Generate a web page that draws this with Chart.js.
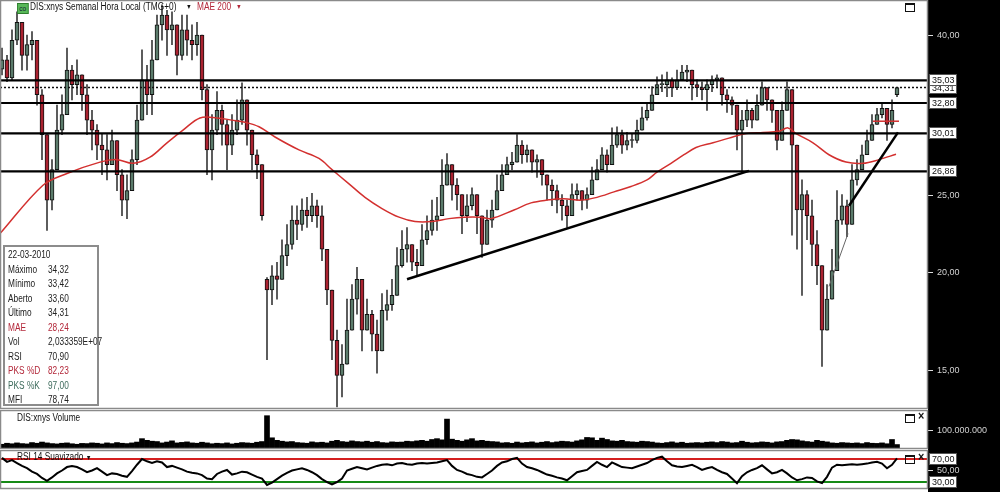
<!DOCTYPE html>
<html>
<head>
<meta charset="utf-8">
<script src="https://cdn.jsdelivr.net/npm/chart.js@4.4.1/dist/chart.umd.min.js"></script>
<style>
  body { margin: 0; width: 1000px; height: 492px; overflow: hidden; background: #fff;
         font-family: 'Liberation Sans', Arial, sans-serif; }
  .pane { position: absolute; left: 0; }
  .lbl { position: absolute; font-size: 10px; white-space: nowrap; color: #111; line-height: 12px;
         transform: scaleX(0.83); transform-origin: 0 0; }
  .sq { position: absolute; width: 8px; height: 6px; border: 1.5px solid #111; border-top-width: 2.5px; }
  #info { position: absolute; left: 3px; top: 245px; width: 92px; height: 157px;
          border: 2px solid #8c8c8c; background: #fff; }
  #info .lbl { color: #222; }
  .red { color: #b3283a !important; }
  .teal { color: #3d6b5c !important; }
</style>
</head>
<body>

<canvas id="mainChart" class="pane" style="top:0" width="1000" height="410"></canvas>
<canvas id="volChart" class="pane" style="top:410px" width="1000" height="39"></canvas>
<canvas id="rsiChart" class="pane" style="top:449px" width="1000" height="43"></canvas>

<!-- cabeçalhos dos painéis -->
<div class="lbl" style="left:17px;top:3px;width:12px;height:9px;background:#58b858;border:1px solid #2e7d2e;font-size:8px;line-height:9px;text-align:center;color:#123">co</div>
<div class="lbl" style="left:30px;top:1px">DIS:xnys Semanal Hora Local (TMG+0)</div>
<div class="lbl" style="left:186px;top:1px;font-size:7px">&#9660;</div>
<div class="lbl red" style="left:197px;top:1px">MAE 200</div>
<div class="lbl red" style="left:236px;top:1px;font-size:7px">&#9660;</div>
<div class="sq" style="left:905px;top:3px"></div>

<div class="lbl" style="left:17px;top:412px">DIS:xnys Volume</div>
<div class="sq" style="left:905px;top:414px"></div>
<div class="lbl" style="left:918px;top:410px;font-size:13px;font-weight:bold">&times;</div>

<div class="lbl" style="left:17px;top:451px">RSI 14 Suavizado <span style="font-size:7px">&#9660;</span></div>
<div class="sq" style="left:905px;top:455px"></div>
<div class="lbl" style="left:918px;top:451px;font-size:13px;font-weight:bold">&times;</div>

<!-- caixa de dados -->
<div id="info"></div>

<script>
// dados semanais (preços em US$), um candle por semana
const opens = [
  36.2,37.2,35.3,39.4,41.5,37.7,38.9,39.4,33.6,29.9,
  24.7,27.0,30.3,31.7,36.1,34.6,35.6,33.6,31.2,30.3,
  29.0,28.6,27.4,29.4,26.6,24.7,25.4,27.8,31.2,35.1,
  33.6,37.2,41.2,42.4,40.6,41.2,37.7,40.6,39.4,38.9,
  40.0,34.1,28.6,30.3,32.1,30.8,29.0,30.3,31.2,33.1,
  30.3,28.2,27.4,19.6,19.0,19.8,19.6,21.0,21.7,23.3,
  23.0,24.0,23.6,24.3,23.6,21.4,19.0,16.4,14.8,15.3,
  16.9,18.5,19.6,16.9,17.7,16.7,15.9,17.9,18.2,18.7,
  20.4,21.4,21.7,20.6,20.4,22.0,22.6,23.3,23.6,25.8,
  27.4,25.8,25.1,23.6,24.3,25.1,23.6,21.7,23.3,24.0,
  25.4,26.6,27.4,27.6,29.0,28.2,28.6,27.6,27.8,26.6,
  25.8,25.4,24.7,24.3,23.6,25.1,25.4,24.7,25.1,26.2,
  27.0,28.2,27.4,29.0,29.9,29.0,29.4,29.4,30.3,31.4,
  32.1,33.6,34.6,34.6,35.1,34.3,35.1,35.9,36.1,34.6,
  34.3,34.1,34.6,35.1,35.3,33.6,33.1,32.6,30.3,31.2,
  32.1,31.2,32.6,34.3,33.1,32.1,29.4,32.1,34.1,29.0,
  24.0,25.1,23.6,21.7,20.4,16.9,18.5,20.1,23.3,24.3,
  23.0,26.2,27.0,28.2,29.4,30.8,31.7,32.3,30.8,33.60
];
const highs = [
  38.5,37.7,40.6,42.8,40.0,40.0,40.4,37.2,34.1,27.4,
  27.8,32.6,33.6,38.5,36.6,37.2,35.6,34.6,32.1,30.8,
  30.0,29.9,30.3,29.4,27.0,26.6,28.6,32.6,38.3,36.6,
  39.4,42.4,43.7,43.0,42.8,40.6,42.4,42.4,41.2,41.5,
  39.4,34.6,31.7,33.9,32.6,31.2,31.7,33.1,34.8,32.6,
  29.4,28.6,26.6,19.7,20.4,20.6,22.0,23.0,24.3,24.3,
  24.8,24.9,25.2,24.7,24.3,21.4,18.7,16.9,16.2,18.5,
  19.3,20.3,18.5,18.5,17.9,17.4,18.8,19.0,19.6,21.5,
  22.6,22.8,21.7,21.4,23.0,23.6,24.7,24.9,27.8,28.3,
  27.0,26.3,25.1,25.1,25.6,24.8,23.6,24.0,24.7,26.6,
  27.4,28.0,28.4,29.9,29.4,29.0,28.6,28.2,27.8,26.6,
  26.2,25.8,25.1,24.7,25.9,25.9,25.4,25.6,27.2,27.8,
  28.8,28.6,30.5,30.6,30.3,30.1,30.0,31.2,32.4,32.8,
  34.4,35.4,35.6,35.9,35.3,36.1,36.6,36.6,35.9,35.1,
  34.9,35.1,35.5,35.6,34.6,34.1,33.4,32.1,32.1,33.1,
  32.3,33.6,34.9,34.1,33.1,31.7,32.9,34.9,34.1,28.6,
  26.2,25.4,24.7,22.6,19.6,19.3,21.4,25.4,25.1,24.7,
  27.4,27.8,29.0,30.3,31.7,32.3,32.7,32.1,33.1,34.32
];
const lows = [
  35.6,34.9,35.1,38.9,36.1,36.1,37.2,32.6,27.8,22.6,
  24.0,27.8,29.9,32.6,33.1,33.6,32.1,29.9,28.6,27.8,
  26.6,26.2,27.4,25.4,23.6,23.4,25.8,27.4,32.1,31.7,
  31.7,37.2,39.4,37.7,38.9,35.6,37.2,37.7,37.2,37.7,
  33.1,26.6,26.2,29.9,29.0,27.0,28.2,29.9,30.8,29.0,
  27.0,26.3,23.3,15.5,18.2,18.5,19.6,20.4,21.4,22.0,
  22.6,22.8,23.2,22.8,20.7,18.2,15.5,13.5,13.9,15.5,
  16.9,17.7,15.9,16.9,15.9,14.9,16.7,17.4,17.9,19.0,
  20.3,20.6,20.1,19.8,20.7,21.7,22.3,22.6,24.0,25.8,
  24.7,24.0,22.4,23.2,24.0,22.4,20.9,22.0,22.8,24.3,
  25.4,26.8,27.0,27.8,27.5,27.6,26.8,26.4,25.8,24.7,
  24.3,23.8,23.3,22.8,23.6,24.7,24.0,24.1,25.1,26.2,
  27.4,26.8,27.8,28.8,28.3,28.6,28.8,29.2,30.6,31.2,
  32.4,33.9,33.9,33.4,33.4,34.1,35.1,34.9,33.1,33.4,
  33.1,32.1,33.9,34.3,32.6,31.9,31.7,28.6,26.8,30.6,
  30.5,31.2,33.1,32.1,31.0,28.6,30.3,32.6,22.3,21.4,
  18.7,22.0,20.4,19.3,15.2,17.4,19.0,21.4,23.0,22.2,
  24.3,25.8,27.0,28.2,29.4,30.8,31.4,29.4,30.5,33.42
];
const closes = [
  37.2,35.3,39.4,41.5,37.7,38.9,39.4,33.6,29.9,24.7,
  27.0,30.3,31.7,36.1,34.6,35.6,33.6,31.2,30.3,29.0,
  28.6,27.4,29.4,26.6,24.7,25.4,27.8,31.2,35.1,33.6,
  37.2,41.2,42.4,40.6,41.2,37.7,40.6,39.4,38.9,40.0,
  34.1,28.6,30.3,32.1,30.8,29.0,30.3,31.2,33.1,30.3,
  28.2,27.4,23.6,19.0,19.8,19.6,21.0,21.7,23.3,23.0,
  24.0,23.6,24.3,23.6,21.4,19.0,16.4,14.8,15.3,16.9,
  18.5,19.6,16.9,17.7,16.7,15.9,17.9,18.2,18.7,20.4,
  21.4,21.7,20.6,20.4,22.0,22.6,23.3,23.6,25.8,27.4,
  25.8,25.1,23.6,24.3,25.1,23.6,21.7,23.3,24.0,25.4,
  26.6,27.4,27.6,29.0,28.2,28.6,27.6,27.8,26.6,25.8,
  25.4,24.7,24.3,23.6,25.1,25.4,24.7,25.1,26.2,27.0,
  28.2,27.4,29.0,29.9,29.0,29.4,29.4,30.3,31.4,32.1,
  33.6,34.6,34.6,35.1,34.3,35.1,35.9,36.1,34.6,34.3,
  34.1,34.6,35.1,35.3,33.6,33.1,32.6,30.3,31.2,32.1,
  31.2,32.6,34.3,33.1,32.1,29.4,32.1,34.1,29.0,24.0,
  25.1,23.6,21.7,20.4,16.9,18.5,20.1,23.3,24.3,23.0,
  26.2,27.0,28.2,29.4,30.8,31.7,32.3,30.8,32.1,34.31
];
// volume em milhões
const volumes = [
  22,28,25,30,26,24,32,28,35,30,
  26,24,28,30,25,22,27,26,30,28,
  24,30,26,32,28,26,30,35,55,45,
  40,38,30,35,42,30,33,36,30,28,
  34,30,25,28,26,30,24,28,32,30,
  28,34,38,190,60,45,40,36,38,32,
  30,28,36,32,34,30,40,45,38,35,
  42,38,36,40,34,38,32,30,36,34,
  35,40,38,42,45,40,50,55,48,170,
  52,45,40,48,55,42,45,40,38,36,
  30,32,28,35,30,33,36,30,34,38,
  32,36,40,38,35,42,48,62,60,45,
  58,50,42,40,45,38,36,34,40,38,
  35,30,28,32,36,30,34,28,30,32,
  30,34,36,32,38,35,30,32,40,34,
  30,32,36,34,30,36,38,45,50,48,
  42,38,35,45,40,36,30,28,32,30,
  28,30,26,32,28,27,30,25,50,20.3
];
const rsi = [
  72,65,68,63,58,54,48,44,37,32,
  38,45,50,56,58,56,52,47,50,54,
  48,42,45,44,41,39,49,60,70,66,
  63,66,64,56,58,55,52,48,46,45,
  42,36,35,44,48,51,43,45,48,47,
  43,39,36,25,29,35,41,46,50,52,
  54,51,47,42,35,30,26,30,36,50,
  53,56,54,52,55,58,60,61,59,62,
  63,61,60,62,63,62,63,64,66,68,
  58,51,48,44,42,39,38,44,50,58,
  64,66,70,72,62,56,54,51,47,43,
  41,38,36,33,40,47,49,51,58,65,
  60,56,64,60,56,55,54,57,60,63,
  68,72,74,66,59,57,56,58,60,56,
  51,54,56,51,47,44,36,28,40,47,
  51,54,59,52,45,47,51,45,38,33,
  35,38,37,31,28,39,55,60,59,60,
  61,60,61,62,64,65,62,54,60,70.9
];
// média móvel exponencial de 200 semanas
const maWeek = [-0.4,8.2,13,19.6,23,26.2,29.6,33,36.2,39.6,43,46,48.6,51.4,54.6,59.4,63.4,66,69.4,72.6,
  76,79.4,82.6,86,89.4,92.4,95.8,97.8,102.4,105.8,109,112.4,115.8,119,122.4,125.8,129,131,133.8,136.4,
  138.8,142.2,145.4,148.8,152.2,155.4,157.2,158.8,162.2,165.4,168.8,172.2,175.4,178.8];
const maValue = [22.4,25.8,26.7,27.6,27.8,27.5,28.0,29.2,30.3,31.4,31.4,31.2,31.0,30.6,29.7,28.6,27.9,27.0,25.9,24.9,
  24.1,23.5,23.2,23.2,23.4,23.5,23.5,23.4,24.0,24.5,24.7,24.8,24.7,24.9,25.3,25.7,26.2,26.8,27.5,28.2,
  28.8,29.2,29.6,30.0,30.1,30.2,30.5,30.0,29.2,28.2,27.6,27.5,27.8,28.24];
// suportes / resistências
const levels = [35.03, 32.80, 30.01, 26.86];
const lastPrice = 34.31;
const trendA = [{x: 81, y: 19.6}, {x: 149.4, y: 26.9}];
const trendB = [{x: 169.4, y: 24.3}, {x: 179.2, y: 30.1}];
const trendC = [{x: 165.4, y: 19.2}, {x: 169.2, y: 22.4}];
const redMark = [{x: 174.2, y: 31.1}, {x: 179.4, y: 31.1}];
const priceTicks = [15, 20, 25, 40];
const rsiLevels = [70, 30];

const infoRows = [
  ['22-03-2010', ''], ['Máximo', '34,32'], ['Mínimo', '33,42'], ['Aberto', '33,60'],
  ['Último', '34,31'], ['MAE', '28,24', 'red'], ['Vol', '2,033359E+07'], ['RSI', '70,90'],
  ['PKS %D', '82,23', 'red'], ['PKS %K', '97,00', 'teal'], ['MFI', '78,74']
];

// caixa de informação
const info = document.getElementById('info');
infoRows.forEach((r, i) => {
  const top = 2 + i * 14.5;
  const a = document.createElement('div');
  a.className = 'lbl' + (r[2] ? ' ' + r[2] : '');
  a.style.left = '3px'; a.style.top = top + 'px';
  a.textContent = r[0];
  info.appendChild(a);
  if (r[1]) {
    const b = document.createElement('div');
    b.className = 'lbl' + (r[2] ? ' ' + r[2] : '');
    b.style.left = '43px'; b.style.top = top + 'px';
    b.textContent = r[1];
    info.appendChild(b);
  }
});

const FONT = "'Liberation Sans', Arial, sans-serif";
const X_MIN = -0.4, X_MAX = 185.2;
const fmt = v => Number(v).toFixed(2).replace('.', ',');

const xAxis = { type: 'linear', min: X_MIN, max: X_MAX, offset: false, display: false };
const tickStyle = { color: '#d2d2d2', font: { family: FONT, size: 9 }, padding: 4, autoSkip: false, maxRotation: 0 };
function yAxisBase(extra) {
  return Object.assign({
    position: 'right',
    afterFit: s => { s.width = 72; s.paddingTop = 0; s.paddingBottom = 0; },
    grid: { drawOnChartArea: false, color: '#dddddd', tickLength: 5 },
    border: { display: false }
  }, extra);
}

// fundo preto do eixo, moldura e caixas de valores
function panelPlugin(boxes) {
  return {
    id: 'panel',
    beforeDraw(chart) {
      const c = chart.ctx, a = chart.chartArea;
      c.save();
      c.fillStyle = '#000';
      c.fillRect(a.right, 0, chart.width - a.right, chart.height);
      c.restore();
    },
    afterDraw(chart) {
      const c = chart.ctx, a = chart.chartArea, y = chart.scales.y;
      c.save();
      c.strokeStyle = '#8a8a8a';
      c.lineWidth = 1.5;
      c.strokeRect(a.left + 0.5, a.top - 0.5, a.right - a.left - 1, a.bottom - a.top + 1);
      c.font = '9px ' + FONT;
      c.textBaseline = 'middle';
      boxes.forEach(v => {
        const py = Math.round(y.getPixelForValue(v));
        c.fillStyle = '#fff';
        c.fillRect(a.right + 1, py - 6, 28, 12);
        c.strokeStyle = '#555';
        c.lineWidth = 1;
        c.strokeRect(a.right + 1.5, py - 5.5, 27, 11);
        c.fillStyle = '#111';
        c.fillText(fmt(v), a.right + 4, py + 0.5);
      });
      c.restore();
    }
  };
}

function hline(v, color, width, dash) {
  return { type: 'line', data: [{ x: X_MIN, y: v }, { x: X_MAX, y: v }], borderColor: color,
           borderWidth: width, borderDash: dash || [], pointRadius: 0, order: 0 };
}
function segment(pts, color, width) {
  return { type: 'line', data: pts, borderColor: color, borderWidth: width, pointRadius: 0, order: 0 };
}

const idx = closes.map((_, i) => i);
const wicks = idx.map(i => ({ x: i, y: [Math.min(lows[i], opens[i], closes[i]), Math.max(highs[i], opens[i], closes[i])] }));
const bodies = idx.map(i => ({ x: i, y: [opens[i], closes[i]] }));
const bodyColors = idx.map(i => closes[i] >= opens[i] ? '#5b7b6b' : '#aa2230');

const common = {
  responsive: false, animation: false, events: [],
  plugins: { legend: { display: false }, tooltip: { enabled: false } }
};

new Chart(document.getElementById('mainChart'), {
  type: 'bar',
  data: {
    datasets: [
      { data: wicks, backgroundColor: '#3c3c3c', barThickness: 1, grouped: false, order: 3 },
      { data: bodies, backgroundColor: bodyColors, borderColor: '#111', borderWidth: 1, borderSkipped: false,
        barThickness: 4, minBarLength: 1, grouped: false, order: 2 },
      { type: 'line', data: maWeek.map((w, i) => ({ x: w, y: maValue[i] })), borderColor: '#d3302f',
        borderWidth: 1.5, pointRadius: 0, tension: 0.35, order: 1 },
      ...levels.map(v => hline(v, '#000', 2.2)),
      hline(lastPrice, '#111', 1.5, [2, 2]),
      segment(trendA, '#000', 2.5),
      segment(trendB, '#000', 2.5),
      segment(trendC, '#666', 1),
      segment(redMark, '#d3302f', 1.5)
    ]
  },
  options: Object.assign({}, common, {
    layout: { padding: { top: 1, bottom: 2, left: 0, right: 0 } },
    scales: {
      x: xAxis,
      y: yAxisBase({
        type: 'logarithmic', min: 13.46, max: 44.18,
        afterBuildTicks: s => { s.ticks = priceTicks.map(v => ({ value: v })); },
        ticks: Object.assign({}, tickStyle, { callback: v => fmt(v) })
      })
    }
  }),
  plugins: [panelPlugin([lastPrice, ...levels])]
});

new Chart(document.getElementById('volChart'), {
  type: 'bar',
  data: {
    datasets: [
      { data: volumes.map((v, i) => ({ x: i, y: v })), backgroundColor: '#000', barThickness: 5, grouped: false }
    ]
  },
  options: Object.assign({}, common, {
    layout: { padding: { top: 1, bottom: 1, left: 0, right: 0 } },
    scales: {
      x: xAxis,
      y: yAxisBase({
        type: 'linear', min: 0, max: 217.6,
        afterBuildTicks: s => { s.ticks = [{ value: 100 }]; },
        ticks: Object.assign({}, tickStyle, { callback: v => (v * 1e6).toLocaleString('de-DE') })
      })
    }
  }),
  plugins: [panelPlugin([])]
});

new Chart(document.getElementById('rsiChart'), {
  type: 'line',
  data: {
    datasets: [
      hline(rsiLevels[0], '#d42020', 2),
      hline(rsiLevels[1], '#168a16', 2),
      { data: rsi.map((v, i) => ({ x: i, y: v })), borderColor: '#000', borderWidth: 2, pointRadius: 0, order: -1 }
    ]
  },
  options: Object.assign({}, common, {
    layout: { padding: { top: 2, bottom: 4, left: 0, right: 0 } },
    scales: {
      x: xAxis,
      y: yAxisBase({
        type: 'linear', min: 19.6, max: 83.9,
        afterBuildTicks: s => { s.ticks = [{ value: 50 }]; },
        ticks: Object.assign({}, tickStyle, { callback: v => fmt(v) })
      })
    }
  }),
  plugins: [panelPlugin(rsiLevels)]
});
</script>
</body>
</html>
